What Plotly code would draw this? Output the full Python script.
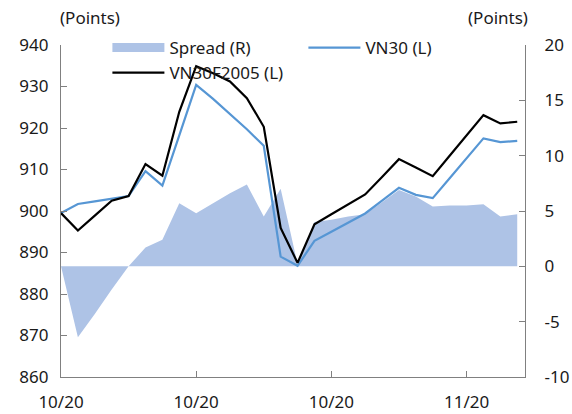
import plotly.graph_objects as go

idx = list(range(28))
tick_pos = [0, 8, 16, 24]
tick_labels = ["10/20", "10/20", "10/20", "11/20"]
right_ticks = [-10, -5, 0, 5, 10, 15, 20]
right_labels = ["-10", "-5", "0", "5", "10", "15", "20"]

vn30 = [899.5, 901.7, 902.3, 903.0, 903.6, 909.6, 906.1, 918.2, 930.4, 927.0,
        923.3, 919.7, 915.7, 889.0, 886.8, 892.8, 895.0, 897.3, 899.4, 902.5,
        905.6, 903.9, 903.1, 907.9, 912.7, 917.5, 916.6, 916.9]
vn30f = [899.5, 895.3, 898.9, 902.5, 903.6, 911.3, 908.5, 923.9, 934.9, 933.2,
         931.2, 927.2, 920.3, 895.9, 887.5, 896.8, 899.2, 901.6, 904.0, 908.2,
         912.5, 910.5, 908.4, 913.3, 918.2, 923.1, 921.1, 921.5]
spread = [0.0, -6.4, -4.3, -2.1, 0.0, 1.7, 2.4, 5.7, 4.8, 5.7,
          6.6, 7.4, 4.5, 7.0, 0.2, 4.0, 4.2, 4.5, 4.7, 5.8,
          6.9, 6.3, 5.4, 5.5, 5.5, 5.6, 4.5, 4.7]

FILL = "#aec3e6"
BLUE = "#5696d4"
FONT = "Noto Sans"
TXT = "#1a1a1a"

fig = go.Figure()
# spread on the right-hand axis (base subplot, drawn underneath)
fig.add_trace(go.Scatter(x=idx, y=spread, yaxis="y", mode="none", fill="tozeroy",
                         fillcolor=FILL, showlegend=False, hoverinfo="skip"))
fig.add_trace(go.Scatter(x=[None], y=[None], yaxis="y", mode="lines", name="Spread (R)",
                         line=dict(color=FILL, width=9)))
# index lines on the left-hand axis (overlaying subplot, drawn on top)
fig.add_trace(go.Scatter(x=idx, y=vn30, yaxis="y2", mode="lines", name="VN30 (L)",
                         line=dict(color=BLUE, width=2.2)))
fig.add_trace(go.Scatter(x=idx, y=vn30f, yaxis="y2", mode="lines", name="VN30F2005 (L)",
                         line=dict(color="black", width=2.2)))

axis_common = dict(showgrid=False, zeroline=False, showline=True, linecolor="#808080",
                   linewidth=1.3, ticks="inside", ticklen=6, tickcolor="#808080",
                   tickfont=dict(family=FONT, size=17, color=TXT))

fig.update_layout(
    width=572, height=414,
    margin=dict(l=61, r=47, t=45, b=37, autoexpand=False),
    paper_bgcolor="white", plot_bgcolor="white",
    font=dict(family=FONT, size=17, color=TXT),
    xaxis=dict(range=[0, 27.46], tickvals=tick_pos, ticktext=tick_labels,
               ticklabelstandoff=9, **axis_common),
    yaxis=dict(range=[-10, 20], tickvals=right_ticks, ticktext=right_labels, side="right",
               ticklabelstandoff=15, **axis_common),
    yaxis2=dict(range=[860, 940], dtick=10, overlaying="y", side="left",
                ticklabelstandoff=8, **axis_common),
    legend=dict(orientation="h", x=0.1, y=1.045, xanchor="left", yanchor="top",
                traceorder="normal", itemwidth=52, entrywidthmode="pixels", entrywidth=129,
                bgcolor="rgba(0,0,0,0)", font=dict(family=FONT, size=17, color=TXT),
                tracegroupgap=0),
    annotations=[
        dict(text="(Points)", xref="paper", yref="paper", x=-0.007, y=1.0, yshift=14,
             xanchor="left", yanchor="bottom", showarrow=False,
             font=dict(family=FONT, size=17, color=TXT)),
        dict(text="(Points)", xref="paper", yref="paper", x=1.011, y=1.0, yshift=14,
             xanchor="right", yanchor="bottom", showarrow=False,
             font=dict(family=FONT, size=17, color=TXT)),
    ],
)

fig.write_html("out.html", config={"displayModeBar": False},
               post_script="document.body.style.margin='0px';")
